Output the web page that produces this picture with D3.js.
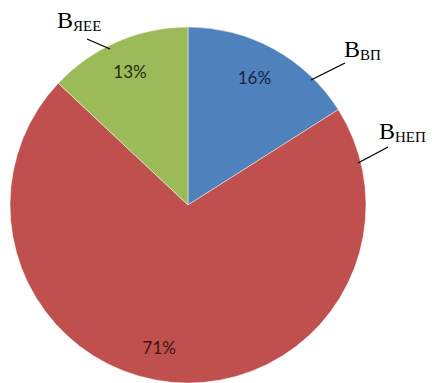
<!DOCTYPE html>
<html>
<head>
<meta charset="utf-8">
<script src="https://cdn.jsdelivr.net/npm/d3@7"></script>
<style>
  html, body { margin: 0; padding: 0; background: #fff; overflow: hidden; }
  svg { display: block; }
</style>
</head>
<body>
<svg id="chart" width="432" height="383"></svg>
<script>
// Shares of the three components, clockwise from 12 o'clock
const keys = ["ВП", "НЕП", "ЯЕЕ"];
const shares = [16, 71, 13];
const fills = ["#4F81BD", "#C0504D", "#9BBB59"];
const textFills = ["#16233f", "#3f1010", "#1f2d0f"];

const svg = d3.select("#chart");
const cx = 188, cy = 205, r = 178;
const g = svg.append("g").attr("transform", `translate(${cx},${cy})`);

const pie = d3.pie().sort(null).value(d => d)(shares);
const arc = d3.arc().innerRadius(0).outerRadius(r);
const labelArc = d3.arc().innerRadius(146).outerRadius(146);

g.selectAll("path.slice")
  .data(pie)
  .join("path")
  .attr("class", "slice")
  .attr("d", arc)
  .attr("fill", (d, i) => fills[i])
  .attr("stroke", "rgba(255,255,255,0.45)")
  .attr("stroke-width", 1);

// Percentage labels inside the slices
const nudge = [[-4, 0], [-15, -3], [0, 0]];
g.selectAll("text.pct")
  .data(pie)
  .join("text")
  .attr("class", "pct")
  .attr("x", (d, i) => labelArc.centroid(d)[0] + nudge[i][0])
  .attr("y", (d, i) => labelArc.centroid(d)[1] + nudge[i][1])
  .attr("text-anchor", "middle")
  .attr("dominant-baseline", "central")
  .attr("font-family", "Lato, 'Open Sans', sans-serif")
  .attr("font-size", 17)
  .attr("fill", (d, i) => textFills[i])
  .text(d => d.data + "%");

// Callout names with leader lines, placed outside the rim
const callout = [
  { lx: 344, ly: 57, line: [[345, 63], [311, 80]] },
  { lx: 379, ly: 139, line: [[388, 147], [358, 163]] },
  { lx: 57, ly: 28, line: [[87, 39], [110, 49]] }
];

keys.forEach((k, i) => {
  const c = callout[i];
  svg.append("line")
    .attr("x1", c.line[0][0]).attr("y1", c.line[0][1])
    .attr("x2", c.line[1][0]).attr("y2", c.line[1][1])
    .attr("stroke", "#000").attr("stroke-width", 1.3);
  const t = svg.append("text")
    .attr("x", c.lx).attr("y", c.ly)
    .attr("font-family", "'Liberation Serif', 'DejaVu Serif', serif")
    .attr("font-size", 24)
    .attr("fill", "#000");
  t.append("tspan").text("В");
  t.append("tspan").attr("dy", 3).attr("font-size", 15).text(k);
});
</script>
</body>
</html>
